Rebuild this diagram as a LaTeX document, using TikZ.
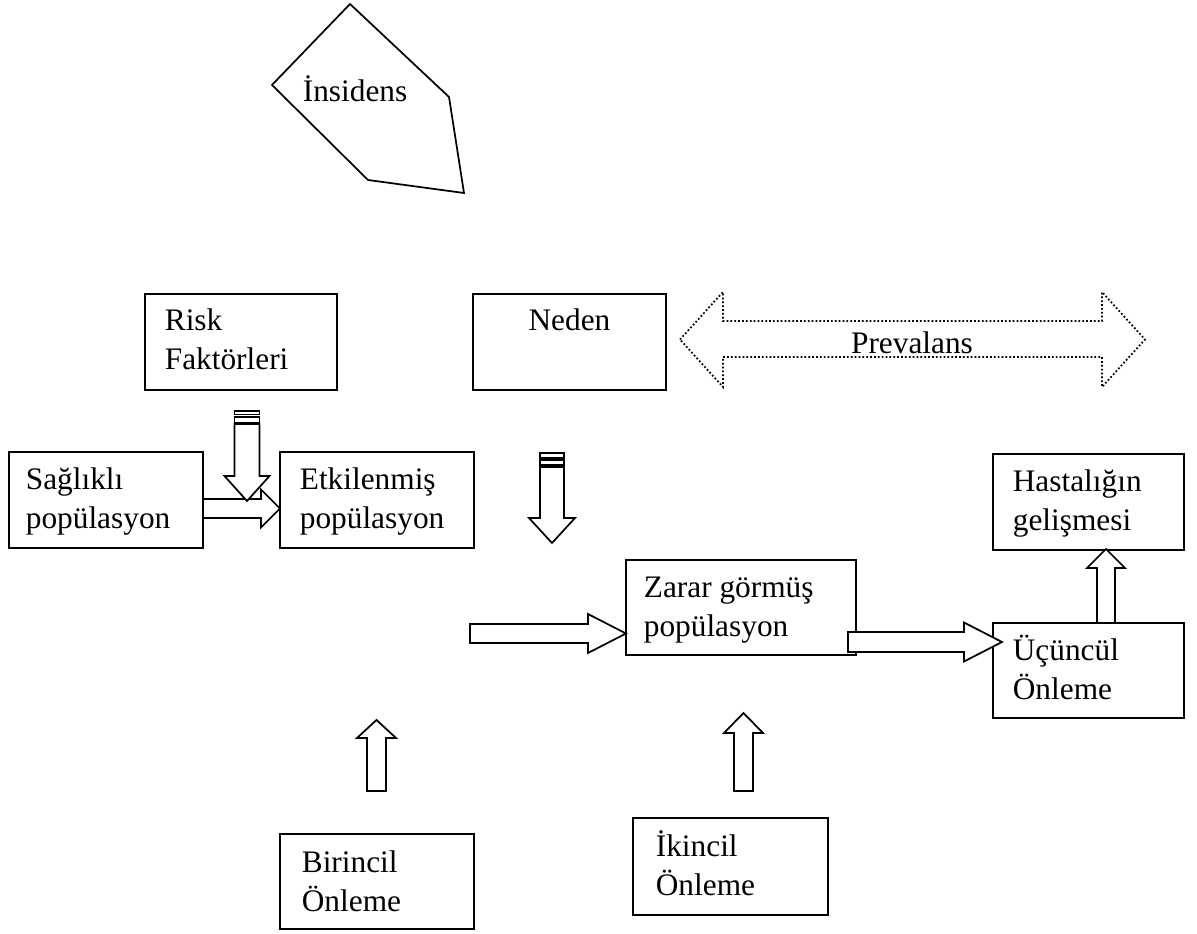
\documentclass[tikz,border=0pt]{standalone}
\usepackage{fontspec}
\setmainfont{Liberation Serif}
\usetikzlibrary{fit}

% right-pointing block arrow: tail x, tip x, centre y, head length, body half, head half
\newcommand\rblockarrow[6]{%
  \draw[blk] (#1,{#3-#5}) -- ({#2-#4},{#3-#5}) -- ({#2-#4},{#3-#6}) -- (#2,#3)
    -- ({#2-#4},{#3+#6}) -- ({#2-#4},{#3+#5}) -- (#1,{#3+#5}) -- cycle;}
% upward block arrow: centre x, tail y, tip y, head length, body half, head half
\newcommand\ublockarrow[6]{%
  \draw[blk] ({#1-#5},#2) -- ({#1-#5},{#3+#4}) -- ({#1-#6},{#3+#4}) -- (#1,#3)
    -- ({#1+#6},{#3+#4}) -- ({#1+#5},{#3+#4}) -- ({#1+#5},#2) -- cycle;}
% stripes on top of a downward arrow: centre x, stripe 1 top/bottom, stripe 2 top/bottom, half width
\newcommand\dstripes[6]{%
  \draw[blk] ({#1-#6},#2) rectangle ({#1+#6},#3);
  \draw[blk] ({#1-#6},#4) rectangle ({#1+#6},#5);}
% downward block arrow: centre x, body top, head base, tip, body half, head half
\newcommand\dblockarrow[6]{%
  \draw[blk] ({#1-#5},#2) -- ({#1-#5},#3) -- ({#1-#6},#3) -- (#1,#4)
    -- ({#1+#6},#3) -- ({#1+#5},#3) -- ({#1+#5},#2) -- cycle;}
\newcommand\twolines[2]{\vtop{\hbox{#1}\hbox{#2}}}

\begin{document}
\begin{tikzpicture}[x=0.75pt,y=-0.75pt,line width=1.3pt,line join=miter,
  box/.style={draw,line width=1.3pt,inner sep=0pt},
  txt/.style={inner sep=0pt,anchor=base west,font=\fontsize{23.5pt}{29.25pt}\selectfont},
  blk/.style={draw,fill=white,line width=1.3pt},
  dots/.style={draw,line width=1.3pt,dash pattern=on 1.3pt off 1.6pt}]
\useasboundingbox (0,0) rectangle (1197,934);

% incidence pentagon
\draw (350,4) -- (449,97) -- (464,193) -- (368,180) -- (272,85) -- cycle;
\node[txt] (insidens) at (302,102) {İnsidens};

% boxes
\node[box,fit={(145,294) (337,390)}] (risk) {};
\node[box,fit={(473,294) (666,390)}] (neden) {};
\node[box,fit={(9,452) (203,548)}] (saglikli) {};
\node[box,fit={(280,452) (474,548)}] (etki) {};
\node[box,fit={(993,454) (1184,550)}] (hasta) {};
\node[box,fit={(626,560) (856,655)}] (zarar) {};
\node[box,fit={(993,623) (1184,718)}] (ucuncul) {};
\node[box,fit={(280,834) (474,929)}] (birincil) {};
\node[box,fit={(633,818) (828,915)}] (ikincil) {};

% prevalence double arrow
\draw[dots] (680,339.5) -- (723,292) -- (723,321) -- (1102,321) -- (1102,292)
  -- (1145,339.5) -- (1102,387) -- (1102,357) -- (723,357) -- (723,387) -- cycle;
\node[txt,anchor=base] (prevalans) at (912,354) {Prevalans};

% block arrows
\rblockarrow{203}{280}{508.5}{19}{9.5}{19}
\dstripes{247}{411}{414.5}{417}{422.5}{12.5}
\dblockarrow{247}{424}{476}{501}{12.5}{22.5}
\dstripes{552}{453}{458}{460}{465}{12}
\dblockarrow{552}{467}{518}{543}{12}{23}
\rblockarrow{470}{626}{633.5}{38}{9.5}{19.5}
\rblockarrow{848}{1002}{642}{38}{10}{19.5}
\ublockarrow{1106}{623}{549}{19}{9}{19}
\ublockarrow{376.5}{791}{720}{18}{9.5}{19.5}
\ublockarrow{743.5}{791}{713}{20}{9.5}{19.5}

% box texts
\node[txt] (risktxt) at (164,331) {\twolines{Risk}{Faktörleri}};
\node[txt,anchor=base] (nedentxt) at (569.5,331) {Neden};
\node[txt] (saglikli txt) at (25,489) {\twolines{Sağlıklı}{popülasyon}};
\node[txt] (etkitxt) at (299,489) {\twolines{Etkilenmiş}{popülasyon}};
\node[txt] (hastatxt) at (1012,491) {\twolines{Hastalığın}{gelişmesi}};
\node[txt] (zarartxt) at (643,597) {\twolines{Zarar görmüş}{popülasyon}};
\node[txt] (ucuncultxt) at (1012,660) {\twolines{Üçüncül}{Önleme}};
\node[txt] (birinciltxt) at (301,872) {\twolines{Birincil}{Önleme}};
\node[txt] (ikinciltxt) at (655,856) {\twolines{İkincil}{Önleme}};
\end{tikzpicture}
\end{document}
